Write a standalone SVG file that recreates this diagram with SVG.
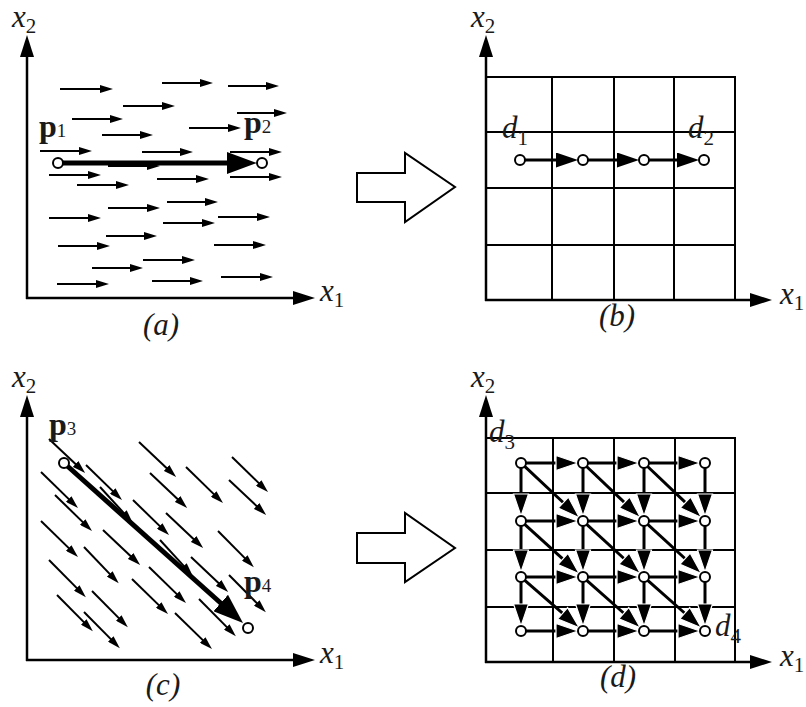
<svg xmlns="http://www.w3.org/2000/svg" width="806" height="707" viewBox="0 0 806 707">
<style>
.t{font-family:"Liberation Serif","DejaVu Serif",serif;font-style:italic;font-size:31px;fill:#1a1a1a}
.b{font-family:"Liberation Serif","DejaVu Serif",serif;font-weight:bold;font-size:32px;fill:#1a1a1a}
.s{font-size:21px;font-style:normal;font-weight:normal}
.ps{font-size:19px;font-style:normal;font-weight:normal}
.axis{stroke:#000;stroke-width:2.5;fill:none;marker-end:url(#ax)}
.grid{stroke:#000;stroke-width:2;fill:none}
.sm{stroke:#000;stroke-width:2;fill:none;marker-end:url(#sa)}
.big{stroke:#000;stroke-width:5;fill:none;marker-end:url(#ba)}
.med{stroke:#000;stroke-width:3;fill:none;marker-end:url(#ma)}
.medw{stroke:#000;stroke-width:3;fill:none;marker-end:url(#mw)}
.nd{fill:#fff;stroke:#000;stroke-width:2}
.hollow{fill:#fff;stroke:#000;stroke-width:2;stroke-linejoin:miter}
</style>
<defs>
<marker id="sa" markerUnits="userSpaceOnUse" markerWidth="13" markerHeight="8" refX="2" refY="4" orient="auto"><path d="M0,0 L13,4 L0,8 z" fill="#000"/></marker>
<marker id="ax" markerUnits="userSpaceOnUse" markerWidth="22" markerHeight="14" refX="2" refY="7" orient="auto"><path d="M0,0 L22,7 L0,14 z" fill="#000"/></marker>
<marker id="ba" markerUnits="userSpaceOnUse" markerWidth="30" markerHeight="22" refX="3" refY="11" orient="auto"><path d="M0,0 L30,11 L0,22 z" fill="#000"/></marker>
<marker id="ma" markerUnits="userSpaceOnUse" markerWidth="22" markerHeight="15" refX="2" refY="7.5" orient="auto"><path d="M0,0 L22,7.5 L0,15 z" fill="#000"/></marker>
<marker id="mw" markerUnits="userSpaceOnUse" markerWidth="22" markerHeight="15" refX="2" refY="7.5" orient="auto" overflow="visible"><path d="M0,0 L22,7.5 L0,15 z" fill="#000" stroke="#fff" stroke-width="1.2"/></marker>
</defs>

<g id="connectors">
<path class="axis" d="M27,299 L27,55"/>
<path class="axis" d="M26,298 L295,298"/>
<path class="sm" d="M60,89 H102"/>
<path class="sm" d="M162,83 H202"/>
<path class="sm" d="M228,86 H268"/>
<path class="sm" d="M123,106 H164"/>
<path class="sm" d="M72,119 H112"/>
<path class="sm" d="M237,113 H276"/>
<path class="sm" d="M102,135 H142"/>
<path class="sm" d="M189,128 H230"/>
<path class="sm" d="M40,151 H81"/>
<path class="sm" d="M142,152 H182"/>
<path class="sm" d="M230,152 H271"/>
<path class="sm" d="M108,166 H149"/>
<path class="sm" d="M49,175 H90"/>
<path class="sm" d="M77,185 H118"/>
<path class="sm" d="M157,179 H198"/>
<path class="sm" d="M230,177 H271"/>
<path class="sm" d="M108,208 H149"/>
<path class="sm" d="M167,202 H207"/>
<path class="sm" d="M49,218 H90"/>
<path class="sm" d="M163,223 H204"/>
<path class="sm" d="M218,217 H259"/>
<path class="sm" d="M106,236 H146"/>
<path class="sm" d="M58,246 H99"/>
<path class="sm" d="M214,245 H255"/>
<path class="sm" d="M92,268 H132"/>
<path class="sm" d="M143,260 H184"/>
<path class="sm" d="M57,284 H98"/>
<path class="sm" d="M152,281 H192"/>
<path class="sm" d="M221,277 H262"/>
<path class="big" d="M58,163 H230"/>

<path class="grid" d="M486,77 H735 V300 M552,77 V300 M614,77 V300 M674,77 V300 M486,132 H735 M486,188 H735 M486,245 H735"/>
<path class="axis" d="M486,301 L486,55"/>
<path class="axis" d="M485,300 L752,300"/>
<path class="med" d="M525,160 H558"/>
<path class="med" d="M588,160 H619"/>
<path class="med" d="M649,160 H679"/>

<path class="axis" d="M27,661 L27,415"/>
<path class="axis" d="M26,660 L295,660"/>
<path class="sm" d="M49,439 L77.1,465.4"/>
<path class="sm" d="M139,442 L168.1,469.4"/>
<path class="sm" d="M232,457 L260.1,484.4"/>
<path class="sm" d="M86,465 L114.1,492.4"/>
<path class="sm" d="M150,473 L179.1,500.4"/>
<path class="sm" d="M186,467 L215.1,495.4"/>
<path class="sm" d="M229,480 L258.1,507.4"/>
<path class="sm" d="M41,472 L70.1,500.4"/>
<path class="sm" d="M55,495 L84.1,523.4"/>
<path class="sm" d="M133,500 L161.1,527.4"/>
<path class="sm" d="M166,513 L195.1,540.4"/>
<path class="sm" d="M41,521 L70.1,549.4"/>
<path class="sm" d="M84,547 L111.1,575.4"/>
<path class="sm" d="M103,530 L132.1,557.4"/>
<path class="sm" d="M218,531 L246.1,559.4"/>
<path class="sm" d="M191,557 L220.1,584.4"/>
<path class="sm" d="M49,560 L78.1,589.4"/>
<path class="sm" d="M149,567 L178.1,595.4"/>
<path class="sm" d="M229,575 L258.1,604.4"/>
<path class="sm" d="M92,591 L120.1,619.4"/>
<path class="sm" d="M132,579 L160.1,606.4"/>
<path class="sm" d="M57,595 L85.1,623.4"/>
<path class="sm" d="M84,612 L112.1,640.4"/>
<path class="sm" d="M175,613 L204.1,641.4"/>
<path class="sm" d="M199,599 L228.1,628.4"/>
<path class="sm" d="M100,487 L125.1,514.4"/>
<path class="sm" d="M160,540 L185.1,567.4"/>
<path class="big" d="M64,463 L222.9,605"/>

<path class="grid" d="M486,438 H735 V662 M553,438 V662 M614,438 V662 M675,438 V662 M486,493 H735 M486,550 H735 M486,607 H735"/>
<path class="axis" d="M486,663 L486,415"/>
<path class="axis" d="M485,662 L752,662"/>
<path class="medw" d="M526,463 H558"/><path class="medw" d="M588,463 H619"/><path class="medw" d="M649,463 H680"/>
<path class="medw" d="M526,521 H558"/><path class="medw" d="M588,521 H619"/><path class="medw" d="M649,521 H680"/>
<path class="medw" d="M526,577 H558"/><path class="medw" d="M588,577 H619"/><path class="medw" d="M649,577 H680"/>
<path class="medw" d="M526,631 H558"/><path class="medw" d="M588,631 H619"/><path class="medw" d="M649,631 H680"/>
<path class="medw" d="M521,468 V496"/><path class="medw" d="M521,526 V552"/><path class="medw" d="M521,582 V606"/>
<path class="medw" d="M583,468 V496"/><path class="medw" d="M583,526 V552"/><path class="medw" d="M583,582 V606"/>
<path class="medw" d="M644,468 V496"/><path class="medw" d="M644,526 V552"/><path class="medw" d="M644,582 V606"/>
<path class="medw" d="M705,468 V496"/><path class="medw" d="M705,526 V552"/><path class="medw" d="M705,582 V606"/>
<path class="medw" d="M524.7,466.4 L564.8,504"/>
<path class="medw" d="M586.6,466.5 L625.9,503.8"/>
<path class="medw" d="M647.6,466.5 L686.9,503.8"/>
<path class="medw" d="M524.7,524.4 L564.4,560.3"/>
<path class="medw" d="M586.7,524.4 L625.6,560"/>
<path class="medw" d="M647.7,524.4 L686.6,560"/>
<path class="medw" d="M524.8,580.3 L564.2,614.6"/>
<path class="medw" d="M586.7,580.3 L625.3,614.5"/>
<path class="medw" d="M647.7,580.3 L686.3,614.5"/>

<polygon class="hollow" points="357,173 405,173 405,153 455,187 405,222 405,202 357,202"/>
<polygon class="hollow" points="357,533 405,533 405,513 455,548 405,582 405,563 357,563"/>
</g>

<g id="nodes-a">
<circle class="nd" cx="58" cy="163" r="5"/>
<circle class="nd" cx="262" cy="163" r="5"/>
</g>
<g id="nodes-b">
<circle class="nd" cx="520" cy="160" r="5"/>
<circle class="nd" cx="583" cy="160" r="5"/>
<circle class="nd" cx="644" cy="160" r="5"/>
<circle class="nd" cx="704" cy="160" r="5"/>
</g>
<g id="nodes-c">
<circle class="nd" cx="64" cy="463" r="5"/>
<circle class="nd" cx="248" cy="628" r="5"/>
</g>
<g id="nodes-d">
<circle class="nd" cx="521" cy="463" r="5"/><circle class="nd" cx="583" cy="463" r="5"/><circle class="nd" cx="644" cy="463" r="5"/><circle class="nd" cx="705" cy="463" r="5"/>
<circle class="nd" cx="521" cy="521" r="5"/><circle class="nd" cx="583" cy="521" r="5"/><circle class="nd" cx="644" cy="521" r="5"/><circle class="nd" cx="705" cy="521" r="5"/>
<circle class="nd" cx="521" cy="577" r="5"/><circle class="nd" cx="583" cy="577" r="5"/><circle class="nd" cx="644" cy="577" r="5"/><circle class="nd" cx="705" cy="577" r="5"/>
<circle class="nd" cx="521" cy="631" r="5"/><circle class="nd" cx="583" cy="631" r="5"/><circle class="nd" cx="644" cy="631" r="5"/><circle class="nd" cx="705" cy="631" r="5"/>
</g>

<g id="labels">
<text class="t" x="12" y="27">x<tspan class="s" dy="6">2</tspan></text>
<text class="t" x="320" y="301">x<tspan class="s" dy="6">1</tspan></text>
<text class="b" x="39" y="137">p<tspan class="ps">1</tspan></text>
<text class="b" x="244" y="133">p<tspan class="ps">2</tspan></text>
<text class="t" x="161" y="335" text-anchor="middle">(a)</text>

<text class="t" x="471" y="27">x<tspan class="s" dy="6">2</tspan></text>
<text class="t" x="780" y="304">x<tspan class="s" dy="6">1</tspan></text>
<text class="t" x="502" y="138">d<tspan class="s" dy="7">1</tspan></text>
<text class="t" x="688" y="138">d<tspan class="s" dy="7">2</tspan></text>
<text class="t" x="617" y="326" text-anchor="middle">(b)</text>

<text class="t" x="12" y="387">x<tspan class="s" dy="6">2</tspan></text>
<text class="t" x="320" y="663">x<tspan class="s" dy="6">1</tspan></text>
<text class="b" x="49" y="435">p<tspan class="ps">3</tspan></text>
<text class="b" x="244" y="592">p<tspan class="ps">4</tspan></text>
<text class="t" x="163" y="695" text-anchor="middle">(c)</text>

<text class="t" x="471" y="387">x<tspan class="s" dy="6">2</tspan></text>
<text class="t" x="780" y="666">x<tspan class="s" dy="6">1</tspan></text>
<text class="t" x="489" y="442">d<tspan class="s" dy="7">3</tspan></text>
<text class="t" x="715" y="636">d<tspan class="s" dy="7">4</tspan></text>
<text class="t" x="618" y="687" text-anchor="middle">(d)</text>
</g>
</svg>
